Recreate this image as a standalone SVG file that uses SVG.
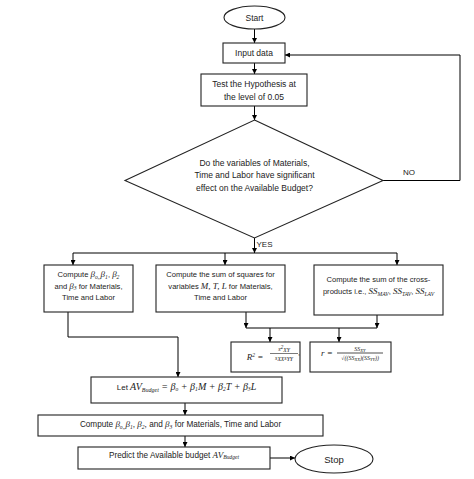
<svg xmlns="http://www.w3.org/2000/svg" width="474" height="479" viewBox="0 0 474 479">
<defs>
<marker id="ah" viewBox="0 0 10 10" refX="10" refY="5" markerWidth="5" markerHeight="5" orient="auto" markerUnits="userSpaceOnUse">
<path d="M0,0 L10,5 L0,10 z" fill="#000"/>
</marker>
<style>
.n{fill:#fff;stroke:#222;stroke-width:1.1}
.c{fill:none;stroke:#000;stroke-width:1;marker-end:url(#ah)}
.l{fill:none;stroke:#000;stroke-width:1}
.t{font-family:"Liberation Sans",Arial,sans-serif;font-size:8.5px;fill:#222;text-anchor:middle}
.s{font-family:"Liberation Sans",Arial,sans-serif;font-size:7.6px;fill:#222;text-anchor:middle}
.m{font-family:"Liberation Serif","Times New Roman",serif;font-style:italic;font-size:9px}
.sub{font-size:5.6px}
.lab{font-family:"Liberation Sans",Arial,sans-serif;font-size:8px;fill:#222}
</style>
</defs>
<rect width="474" height="479" fill="#fff"/>
<g id="connectors">
<line class="c" x1="254.5" y1="29" x2="254.5" y2="43"/>
<line class="c" x1="254.5" y1="63" x2="254.5" y2="74"/>
<line class="c" x1="254.5" y1="106" x2="254.5" y2="120"/>
<polyline class="c" points="383,180.5 460,180.5 460,55 285,55"/>
<line class="c" x1="254.5" y1="238" x2="254.5" y2="253"/>
<polyline class="l" points="73,253 397,253"/>
<line class="c" x1="73" y1="253" x2="73" y2="265"/>
<line class="c" x1="225" y1="253" x2="225" y2="265"/>
<line class="c" x1="397" y1="253" x2="397" y2="265"/>
<line class="c" x1="246" y1="312" x2="246" y2="328"/>
<line class="c" x1="377" y1="315" x2="377" y2="328"/>
<polyline class="l" points="246,328 377,328"/>
<line class="c" x1="270" y1="328" x2="270" y2="342"/>
<line class="c" x1="339" y1="328" x2="339" y2="342"/>
<polyline class="c" points="68,312 68,337 178,337 178,377"/>
<line class="c" x1="185" y1="403" x2="185" y2="415"/>
<line class="c" x1="185" y1="436" x2="185" y2="447"/>
<line class="c" x1="270" y1="458" x2="295" y2="458"/>
</g>
<g id="start">
<ellipse class="n" cx="254.5" cy="17.5" rx="30.5" ry="11.5"/>
<text class="t" x="254.5" y="20.5">Start</text>
</g>
<g id="input">
<rect class="n" x="223" y="43" width="62" height="20"/>
<text class="t" x="254" y="55.8">Input data</text>
</g>
<g id="test">
<rect class="n" x="201" y="74" width="106" height="32"/>
<text class="t" x="254" y="87.3">Test the Hypothesis at</text>
<text class="t" x="254" y="100.3">the level of 0.05</text>
</g>
<g id="decision">
<polygon class="n" points="254.5,120 383,180.5 254.5,238 125,180.5"/>
<text class="t" x="254.5" y="166">Do the variables of Materials,</text>
<text class="t" x="254.5" y="178">Time and Labor have significant</text>
<text class="t" x="254.5" y="190.5">effect on the Available Budget?</text>
<text class="lab" x="403" y="175">NO</text>
<text class="lab" x="256.5" y="247">YES</text>
</g>
<g id="betas">
<rect class="n" x="44" y="265" width="89" height="47"/>
<text class="s" x="88.5" y="277">Compute <tspan class="m">β</tspan><tspan class="m sub" dy="1.5">o,,</tspan><tspan class="m" dy="-1.5">β</tspan><tspan class="m sub" dy="1.5">1</tspan><tspan dy="-1.5">, </tspan><tspan class="m">β</tspan><tspan class="m sub" dy="1.5">2</tspan></text>
<text class="s" x="88.5" y="288.5">and <tspan class="m">β</tspan><tspan class="m sub" dy="1.5">3</tspan><tspan dy="-1.5"> for Materials,</tspan></text>
<text class="s" x="88.5" y="299.5">Time and Labor</text>
</g>
<g id="squares">
<rect class="n" x="156" y="265" width="129" height="47"/>
<text class="s" x="220.5" y="277">Compute the sum of squares for</text>
<text class="s" x="220.5" y="288.5">variables <tspan class="m">M, T, L</tspan> for Materials,</text>
<text class="s" x="220.5" y="299.5">Time and Labor</text>
</g>
<g id="cross">
<rect class="n" x="314" y="265" width="129" height="50"/>
<text class="s" x="378.5" y="281.5">Compute the sum of the cross-</text>
<text class="s" x="378.5" y="294">products i.e., <tspan class="m">SS</tspan><tspan class="m sub" dy="1.5">MAV</tspan><tspan dy="-1.5">, </tspan><tspan class="m">SS</tspan><tspan class="m sub" dy="1.5">TAV</tspan><tspan dy="-1.5">, </tspan><tspan class="m">SS</tspan><tspan class="m sub" dy="1.5">LAV</tspan></text>
</g>
<g id="r2">
<rect class="n" x="231" y="342" width="69" height="30"/>
<text class="s m" x="255" y="360" style="font-size:9px">R<tspan class="sub" dy="-3">2</tspan><tspan dy="3"> =</tspan></text>
<text class="s m" x="284" y="351" style="font-size:6px">s<tspan class="sub" dy="-2">2</tspan><tspan class="sub" dy="3">XY</tspan></text>
<line x1="270" y1="353.5" x2="298" y2="353.5" stroke="#222" stroke-width="0.6"/>
<text class="s m" x="284" y="360" style="font-size:6px">s<tspan class="sub" dy="1">XX</tspan><tspan dy="-1">s</tspan><tspan class="sub" dy="1">YY</tspan></text>
<text class="s" x="299" y="355">,</text>
</g>
<g id="rcoef">
<rect class="n" x="310" y="342" width="81" height="30"/>
<text class="s m" x="327" y="356" style="font-size:9px">r =</text>
<text class="s m" x="360" y="350.5" style="font-size:6px">SS<tspan class="sub" dy="1" style="font-size:4.5px">XY</tspan></text>
<line x1="337" y1="353" x2="383" y2="353" stroke="#222" stroke-width="0.8"/>
<text class="s m" x="360" y="360" style="font-size:6px">√((SS<tspan class="sub" dy="1" style="font-size:4.5px">XX</tspan><tspan dy="-1">)(SS</tspan><tspan class="sub" dy="1" style="font-size:4.5px">YY</tspan><tspan dy="-1">))</tspan></text>
</g>
<g id="model">
<rect class="n" x="91" y="377" width="191" height="26"/>
<text class="s" x="186.5" y="389.5" style="font-size:8px">Let <tspan class="m" style="font-size:10px">AV</tspan><tspan class="m sub" dy="2" style="font-size:6px">Budget</tspan><tspan class="m" style="font-size:10px" dy="-2"> =  β</tspan><tspan class="m sub" dy="1.5">o</tspan><tspan class="m" style="font-size:10px" dy="-1.5">  +  β</tspan><tspan class="m sub" dy="1.5">1</tspan><tspan class="m" style="font-size:10px" dy="-1.5">M  +  β</tspan><tspan class="m sub" dy="1.5">2</tspan><tspan class="m" style="font-size:10px" dy="-1.5">T  +  β</tspan><tspan class="m sub" dy="1.5">3</tspan><tspan class="m" style="font-size:10px" dy="-1.5">L</tspan></text>
</g>
<g id="compute">
<rect class="n" x="38" y="415" width="285" height="21"/>
<text class="s" x="180.5" y="427" style="font-size:8.2px">Compute <tspan class="m">β</tspan><tspan class="m sub" dy="1.5">o,,</tspan><tspan class="m" dy="-1.5">β</tspan><tspan class="m sub" dy="1.5">1</tspan><tspan dy="-1.5">, </tspan><tspan class="m">β</tspan><tspan class="m sub" dy="1.5">2</tspan><tspan dy="-1.5">, and </tspan><tspan class="m">β</tspan><tspan class="m sub" dy="1.5">3</tspan><tspan dy="-1.5">  for Materials, Time and Labor</tspan></text>
</g>
<g id="predict">
<rect class="n" x="78" y="447" width="192" height="22"/>
<text class="s" x="174" y="457.5" style="font-size:8.2px">Predict the Available budget <tspan class="m">AV</tspan><tspan class="m sub" dy="1.8">Budget</tspan></text>
</g>
<g id="stop">
<ellipse class="n" cx="334" cy="459" rx="39" ry="14"/>
<text class="t" x="334" y="462.5" style="font-size:9.5px">Stop</text>
</g>
</svg>
